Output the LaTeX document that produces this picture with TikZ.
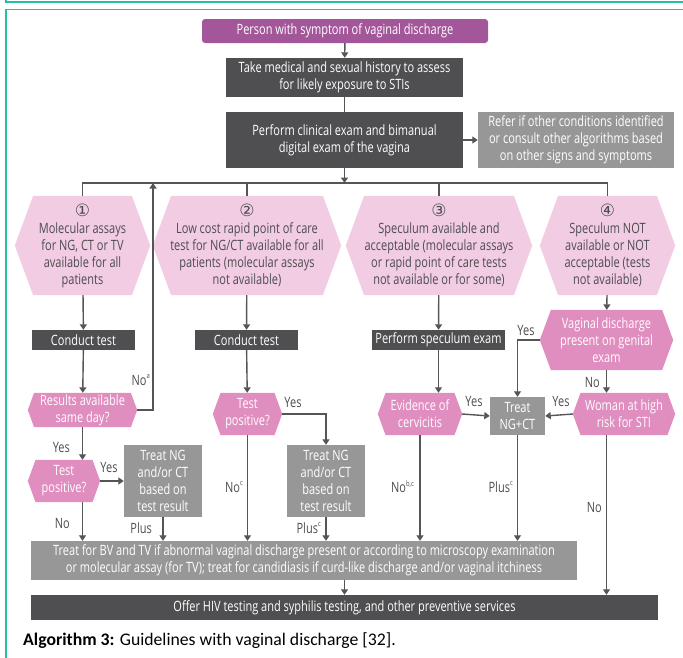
\documentclass[tikz,border=0pt]{standalone}
\usepackage{fontspec}
\setmainfont{Open Sans}[FakeStretch=0.775]
\newfontfamily\circfont{DejaVu Sans}
\newfontfamily\capfam{Carlito}
\usetikzlibrary{arrows.meta,calc}
\pgfdeclarelayer{background}
\pgfsetlayers{background,main}
\definecolor{dgray}{HTML}{4F4F51}
\definecolor{mgray}{HTML}{979797}
\definecolor{purp}{HTML}{A3579A}
\definecolor{lpink}{HTML}{F1CCE2}
\definecolor{mpink}{HTML}{E08DBF}
\definecolor{tealc}{HTML}{22BFA0}
\definecolor{txt}{HTML}{4D4D4F}
\definecolor{lnc}{HTML}{555557}
\newcommand\mainsz{\fontsize{14.2}{17}\selectfont}
\newcommand\cnum[1]{{\circfont\fontsize{17}{17}\selectfont #1}}
\newcommand\sups[1]{\raisebox{0.45em}{\fontsize{7.5}{7.5}\selectfont #1}}
\newcommand\mkbox[7]{%
  \pgfmathsetmacro\cx{(#3+#5)/2}\pgfmathsetmacro\cy{(#4+#6)/2}%
  \pgfmathsetmacro\ww{#5-#3}\pgfmathsetmacro\hh{#6-#4}%
  \node[#1, minimum width=\ww pt, minimum height=\hh pt] (#2) at (\cx,\cy) {#7};}
\newcommand\mkhex[8]{%
  \mkbox{#1}{#3}{#4}{#5}{#6}{#7}{#8}%
  \pgfmathsetmacro\dd{0.185*(#7-#5)}%
  \begin{pgfonlayer}{background}
    \fill[#2] (#3.west) -- ([xshift=\dd pt]#3.north west) -- ([xshift=-\dd pt]#3.north east)
      -- (#3.east) -- ([xshift=-\dd pt]#3.south east) -- ([xshift=\dd pt]#3.south west) -- cycle;
  \end{pgfonlayer}}
\tikzset{
  base/.style={inner sep=0pt, align=center, font=\mainsz},
  darkbox/.style={base, fill=dgray, text=white},
  graybox/.style={base, fill=mgray, text=white},
  purpbox/.style={base, fill=purp, text=white, rounded corners=3pt},
  hexl/.style={base, text=txt},
  hexm/.style={base, text=white},
  lbl/.style={inner sep=0pt, font=\mainsz, text=txt},
  conn/.style={draw=lnc, line width=1.4pt},
  arr/.style={conn, -{Triangle[width=7pt,length=5.5pt]}},
  frame/.style={draw=tealc, line width=1.5pt}
}
\begin{document}
\begin{tikzpicture}[x=1pt,y=-1pt]
\useasboundingbox (0,0) rectangle (683,657);
% frame
\draw[frame] (6,-5) -- (6,2) -- (690,2);
\draw[frame] (6,700) -- (6,9.5) -- (690,9.5);
% nodes
\mkbox{purpbox}{top}{202}{19}{488}{43}{Person with symptom of vaginal discharge}
\mkbox{darkbox}{hist}{226}{58}{463}{97}{Take medical and sexual history to assess\\for likely exposure to STIs}
\mkbox{darkbox}{exam}{226}{112}{463}{168}{Perform clinical exam and bimanual\\digital exam of the vagina}
\mkbox{graybox}{refer}{478}{112}{674}{168}{Refer if other conditions identified\\or consult other algorithms based\\on other signs and symptoms}
\coordinate (dist) at (345,183);
\coordinate (loop) at (153,183);
\mkhex{hexl}{lpink}{hexA}{15}{196}{150}{295}{\cnum{①}\\Molecular assays\\for NG, CT or TV\\available for all\\patients}
\mkhex{hexl}{lpink}{hexB}{153}{196}{341}{295}{\cnum{②}\\Low cost rapid point of care\\test for NG/CT available for all\\patients (molecular assays\\not available)}
\mkhex{hexl}{lpink}{hexC}{346}{196}{532}{295}{\cnum{③}\\Speculum available and\\acceptable (molecular assays\\or rapid point of care tests\\not available or for some)}
\mkhex{hexl}{lpink}{hexD}{540}{196}{675}{295}{\cnum{④}\\Speculum NOT\\available or NOT\\acceptable (tests\\not available)}
\mkbox{darkbox}{ct1}{32}{330}{135}{350}{Conduct test}
\mkbox{darkbox}{ct2}{195}{330}{298}{350}{Conduct test}
\mkbox{darkbox}{spec}{372}{330}{505}{350}{Perform speculum exam}
\mkhex{hexm}{mpink}{vag}{540}{310}{673}{370}{Vaginal discharge\\present on genital\\exam}
\mkhex{hexm}{mpink}{res}{28}{393}{137}{427}{Results available\\same day?}
\mkhex{hexm}{mpink}{tp1}{28}{460}{100}{502}{Test\\positive?}
\mkbox{graybox}{tn1}{124}{445}{202}{517}{Treat NG\\and/or CT\\based on\\test result}
\mkhex{hexm}{mpink}{tp2}{213}{393}{282}{435}{Test\\positive?}
\mkbox{graybox}{tn2}{287}{445}{365}{517}{Treat NG\\and/or CT\\based on\\test result}
\mkhex{hexm}{mpink}{cerv}{378}{393}{462}{435}{Evidence of\\cervicitis}
\mkbox{graybox}{tnc}{490}{397}{545}{435}{Treat\\NG+CT}
\mkhex{hexm}{mpink}{woman}{573}{393}{675}{435}{Woman at high\\risk for STI}
\mkbox{graybox}{bv}{31}{541}{577}{580}{Treat for BV and TV if abnormal vaginal discharge present or according to microscopy examination\\or molecular assay (for TV); treat for candidiasis if curd-like discharge and/or vaginal itchiness}
\mkbox{darkbox}{hiv}{31}{595}{658}{620}{Offer HIV testing and syphilis testing, and other preventive services}
\node[anchor=base west, inner sep=0pt, font=\capfam\fontsize{17.7}{19}\selectfont, text=black] (cap) at (23,645) {\textbf{Algorithm 3:} Guidelines with vaginal discharge [32].};
% connectors
\draw[arr] (top) -- (hist);
\draw[conn] (hist) -- (exam);
\draw[arr] (exam) -- (refer);
\draw[arr] (exam.south) -- (exam.south |- dist);
\draw[conn] (hexA.north) -- (hexA.north |- dist) -- (hexD.north |- dist) -- (hexD.north);
\draw[conn] (hexB.north) -- (hexB.north |- dist);
\draw[conn] (hexC.north) -- (hexC.north |- dist);
\draw[arr] (hexA) -- (ct1);
\draw[arr] (ct1) -- (res);
\draw[arr] (res.east) -| (loop);
\draw[arr] (res.south) -- (res.south |- tp1.north);
\draw[arr] (tp1.east) -- (tp1.east -| tn1.west);
\draw[arr] (tp1.south -| res) -- (bv.north -| res);
\draw[arr] (tn1.south) -- (bv.north -| tn1);
\draw[arr] (hexB) -- (ct2);
\draw[arr] (ct2) -- (tp2);
\draw[arr] (tp2.east) -| (tn2.north);
\draw[arr] (tp2.south) -- (bv.north -| tp2);
\draw[arr] (tn2.south) -- (bv.north -| tn2);
\draw[arr] (hexC) -- (spec);
\draw[arr] (spec.south) -- (spec.south |- cerv.north);
\draw[arr] (cerv.east) -- (tnc.west);
\draw[arr] (cerv.south) -- (bv.north -| cerv);
\draw[arr] (tnc.south) -- (bv.north -| tnc);
\draw[arr] (hexD) -- (vag);
\draw[arr] (vag.west) -| (tnc.north);
\draw[arr] (vag.south) -- (vag.south |- woman.north);
\draw[arr] (woman.west) -- (tnc.east);
\draw[arr] (woman.south -| vag) -- (hiv.north -| vag);
\draw[arr] (bv.south -| exam) -- (hiv.north -| exam);
% labels
\node[lbl, anchor=east] (l1) at (150,380) {No\sups{a}};
\node[lbl, anchor=east] (l2) at (70,447) {Yes};
\node[lbl] (l3) at (109,467) {Yes};
\node[lbl, anchor=east] (l4) at (70,523) {No};
\node[lbl, anchor=east] (l5) at (152,528) {Plus};
\node[lbl] (l6) at (293,402) {Yes};
\node[lbl, anchor=east] (l7) at (243,487) {No\sups{c}};
\node[lbl, anchor=east] (l8) at (321,528) {Plus\sups{c}};
\node[lbl] (l9) at (526,330) {Yes};
\node[lbl, anchor=east] (l10) at (600,382) {No};
\node[lbl, anchor=east] (l11) at (414,487) {No\sups{b,c}};
\node[lbl] (l12) at (474,401) {Yes};
\node[lbl, anchor=east] (l13) at (513,487) {Plus\sups{c}};
\node[lbl] (l14) at (561,401) {Yes};
\node[lbl, anchor=east] (l15) at (602,507) {No};
\end{tikzpicture}
\end{document}
